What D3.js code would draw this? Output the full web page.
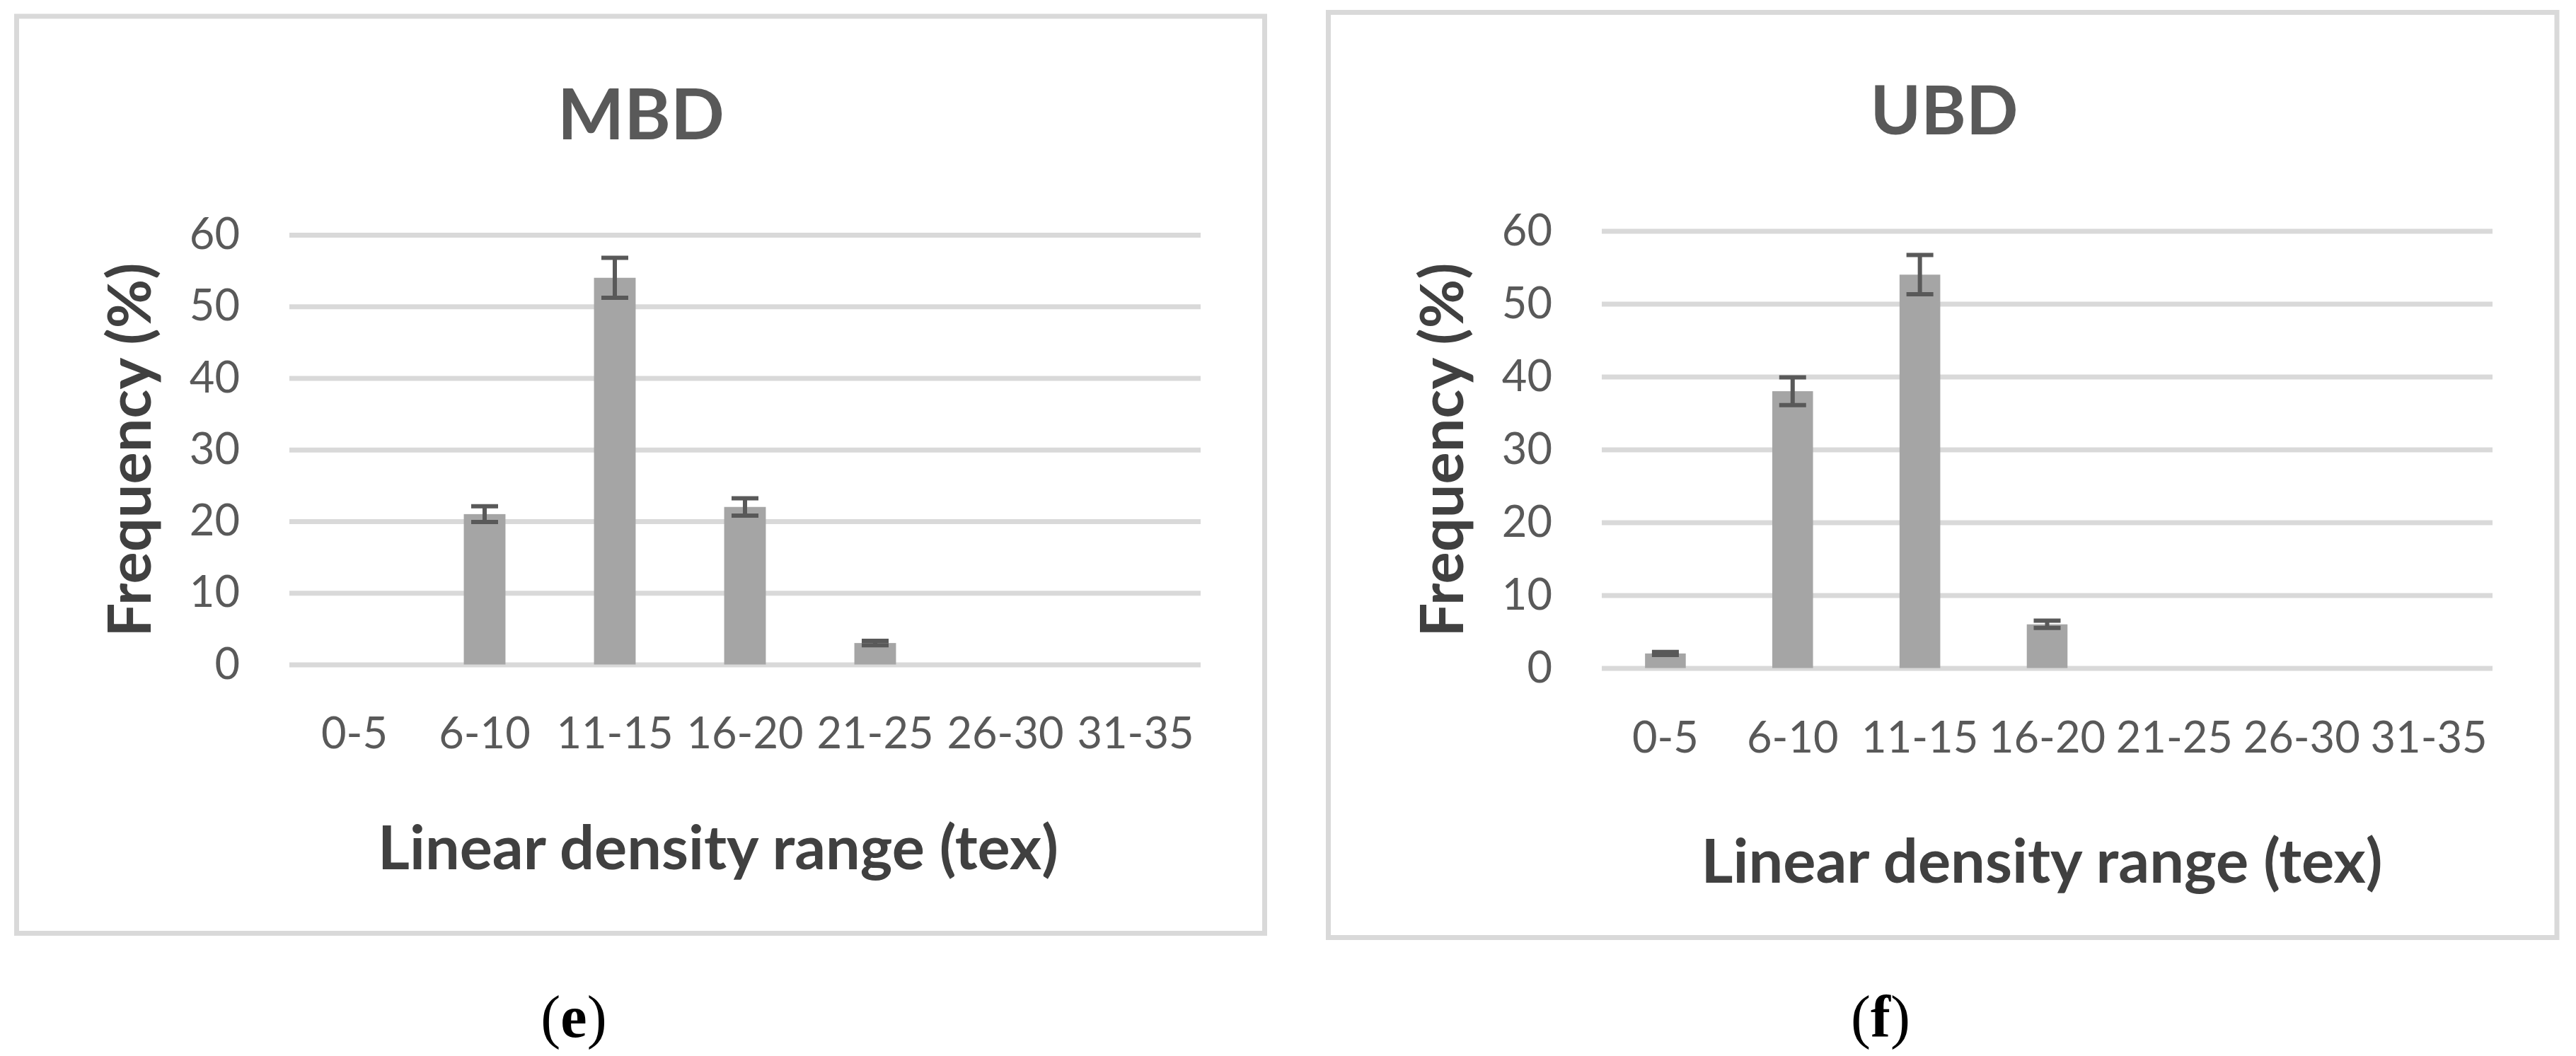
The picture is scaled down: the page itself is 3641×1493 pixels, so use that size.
<!DOCTYPE html>
<html>
<head>
<meta charset="utf-8">
<script src="https://cdn.jsdelivr.net/npm/d3@7"></script>
<style>
  body { margin: 0; background: #fff; }
  svg { display: block; }
</style>
</head>
<body>
<div id="chart"></div>
<script>
// categories (linear density ranges, tex)
var ranges = ["0-5", "6-10", "11-15", "16-20", "21-25", "26-30", "31-35"];
var yTicks = [0, 10, 20, 30, 40, 50, 60];

// MBD frequency (%) and error
var mbdValues = [0, 21, 54, 22, 3, 0, 0];
var mbdErrors = [0, 1.1, 2.8, 1.2, 0.3, 0, 0];

// UBD frequency (%) and error
var ubdValues = [2, 38, 54, 6, 0, 0, 0];
var ubdErrors = [0.2, 1.9, 2.7, 0.5, 0, 0, 0];

var W = 3641, H = 1493;
var FONT = "Lato, 'Open Sans', sans-serif";

var svg = d3.select("#chart").append("svg")
    .attr("width", W)
    .attr("height", H);

// scale a text's font size so that it spans the wanted width
function fitText(t, width) {
    var size = parseFloat(t.attr("font-size"));
    var len = t.node().getComputedTextLength();
    t.attr("font-size", size * width / len);
}

// tick label size, picked so "0-5" is as wide as in the reference
var probe = svg.append("text").attr("font-family", FONT).attr("font-size", 62).text("0-5");
var tickSize = 62 * 94 / probe.node().getComputedTextLength();
probe.remove();

function drawPanel(p) {
    var g = svg.append("g").attr("class", "panel");

    // frame
    g.append("rect")
        .attr("x", p.box[0])
        .attr("y", p.box[1])
        .attr("width", p.box[2] - p.box[0])
        .attr("height", p.box[3] - p.box[1])
        .attr("fill", "none")
        .attr("stroke", "#d9d9d9")
        .attr("stroke-width", 7);

    var x = d3.scaleBand()
        .domain(ranges)
        .range([p.plot[0], p.plot[2]])
        .padding(0);

    var y = d3.scaleLinear()
        .domain([0, 60])
        .range([p.plot[3], p.plot[1]]);

    // y axis + gridlines
    var yAxis = d3.axisLeft(y)
        .tickValues(yTicks)
        .tickSizeInner(-(p.plot[2] - p.plot[0]))
        .tickSizeOuter(0)
        .tickPadding(70);

    var ya = g.append("g")
        .attr("transform", "translate(" + p.plot[0] + ",0)")
        .call(yAxis);
    ya.select(".domain").remove();
    ya.selectAll("line").attr("stroke", "#d9d9d9").attr("stroke-width", 7);
    ya.selectAll("text")
        .attr("font-family", FONT)
        .attr("font-size", tickSize)
        .attr("fill", "#595959");

    // x axis labels
    var xAxis = d3.axisBottom(x)
        .tickSize(0)
        .tickPadding(p.xPad);

    var xa = g.append("g")
        .attr("transform", "translate(0," + p.plot[3] + ")")
        .call(xAxis);
    xa.select(".domain").remove();
    xa.selectAll("text")
        .attr("font-family", FONT)
        .attr("font-size", tickSize)
        .attr("fill", "#595959");

    // bars
    var bw = x.bandwidth() * 0.32;
    g.selectAll(".bar")
        .data(p.values)
        .enter().append("rect")
        .attr("class", "bar")
        .attr("x", function(d, i) { return x(ranges[i]) + (x.bandwidth() - bw) / 2; })
        .attr("y", function(d) { return y(d); })
        .attr("width", bw)
        .attr("height", function(d) { return y(0) - y(d); })
        .attr("fill", "#a5a5a5");

    // error bars
    var eb = g.selectAll(".err")
        .data(p.values.map(function(d, i) { return {v: d, e: p.errors[i], c: ranges[i]}; })
            .filter(function(d) { return d.v > 0; }))
        .enter().append("g")
        .attr("class", "err")
        .attr("stroke", "#595959")
        .attr("stroke-width", 6);

    var cx = function(d) { return x(d.c) + x.bandwidth() / 2; };
    var capW = 19;

    eb.append("line")
        .attr("x1", cx).attr("x2", cx)
        .attr("y1", function(d) { return y(d.v + d.e); })
        .attr("y2", function(d) { return y(d.v - d.e); });
    eb.append("line")
        .attr("x1", function(d) { return cx(d) - capW; })
        .attr("x2", function(d) { return cx(d) + capW; })
        .attr("y1", function(d) { return y(d.v + d.e); })
        .attr("y2", function(d) { return y(d.v + d.e); });
    eb.append("line")
        .attr("x1", function(d) { return cx(d) - capW; })
        .attr("x2", function(d) { return cx(d) + capW; })
        .attr("y1", function(d) { return y(d.v - d.e); })
        .attr("y2", function(d) { return y(d.v - d.e); });

    // chart title
    var title = g.append("text")
        .attr("x", p.title[0])
        .attr("y", p.title[1])
        .attr("text-anchor", "middle")
        .attr("font-family", FONT)
        .attr("font-weight", "bold")
        .attr("font-size", 90)
        .attr("fill", "#595959")
        .text(p.name);
    fitText(title, p.title[2]);

    // y axis title
    var yt = g.append("text")
        .attr("transform", "translate(" + p.yTitle[0] + "," + p.yTitle[1] + ") rotate(-90)")
        .attr("text-anchor", "middle")
        .attr("font-family", FONT)
        .attr("font-weight", "bold")
        .attr("font-size", 76)
        .attr("fill", "#404040")
        .text("Frequency (%)");
    fitText(yt, p.yTitle[2]);

    // x axis title
    var xt = g.append("text")
        .attr("x", p.xTitle[0])
        .attr("y", p.xTitle[1])
        .attr("text-anchor", "middle")
        .attr("font-family", FONT)
        .attr("font-weight", "bold")
        .attr("font-size", 76)
        .attr("fill", "#404040")
        .text("Linear density range (tex)");
    fitText(xt, p.xTitle[2]);

    // panel caption
    var cap = svg.append("text")
        .attr("x", p.caption[0])
        .attr("y", p.caption[1])
        .attr("text-anchor", "middle")
        .attr("font-family", "'Liberation Serif', 'Times New Roman', serif")
        .attr("font-size", 84)
        .attr("fill", "#000");
    cap.append("tspan").text("(");
    cap.append("tspan").attr("font-weight", "bold").text(p.letter);
    cap.append("tspan").text(")");
}

drawPanel({
    name: "MBD", letter: "e",
    values: mbdValues, errors: mbdErrors,
    box: [23.5, 23, 1787.5, 1319.5],
    plot: [409, 332, 1697, 939.5],
    xPad: 75,
    title: [906, 197, 236],
    yTitle: [213, 636, 529],
    xTitle: [1015, 1229, 962],
    caption: [811, 1466]
});

drawPanel({
    name: "UBD", letter: "f",
    values: ubdValues, errors: ubdErrors,
    box: [1877.5, 17.5, 3614, 1325.5],
    plot: [2264, 326.5, 3523, 944.5],
    xPad: 76,
    title: [2748, 190, 209],
    yTitle: [2068, 636, 529],
    xTitle: [2886, 1248, 963],
    caption: [2658, 1466]
});
</script>
</body>
</html>
